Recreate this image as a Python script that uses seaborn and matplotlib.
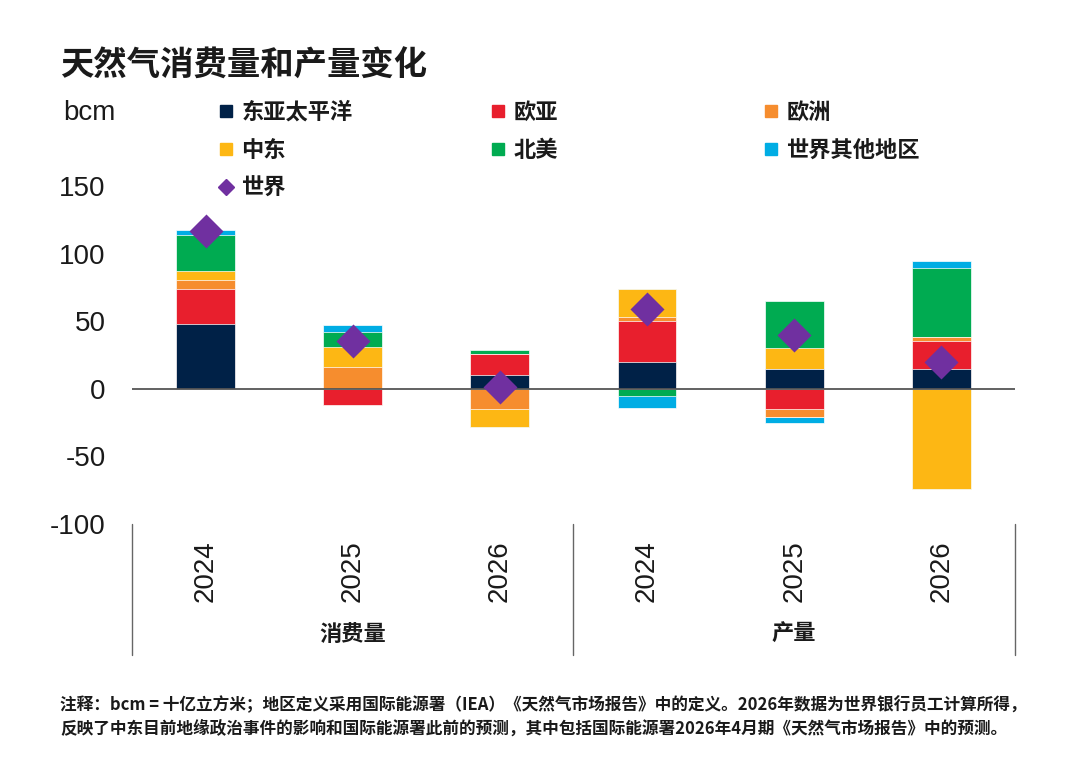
import numpy as np
import pandas as pd
import seaborn as sns
import matplotlib.pyplot as plt
from matplotlib.lines import Line2D
from matplotlib.font_manager import FontProperties

# 数据 (bcm)
groups = ['消费量', '产量']
years = ['2024', '2025', '2026', '2024', '2025', '2026']
east_asia_pacific = [48, 0, 10, 20, 15, 15]
eurasia = [26, -12, 16, 30, -15, 20]
europe = [6.5, 16, -15, 3, -6, 3]
middle_east = [6.5, 15, -13, 20.5, 15, -74]
north_america = [26.5, 11, 3, -5, 35, 51]
rest_of_world = [4, 5, 0, -9.5, -4, 5.5]
world = [117, 35, 1, 59, 40, 20]

series_names = ['东亚太平洋', '欧亚', '欧洲', '中东', '北美', '世界其他地区']
series_colors = ['#002147', '#e81f2d', '#f68d2e', '#fdb714', '#00ab51', '#00ade4']
world_color = '#7030a0'

title = '天然气消费量和产量变化'
note1 = '注释：bcm = 十亿立方米；地区定义采用国际能源署（IEA）《天然气市场报告》中的定义。2026年数据为世界银行员工计算所得，'
note2 = '反映了中东目前地缘政治事件的影响和国际能源署此前的预测，其中包括国际能源署2026年4月期《天然气市场报告》中的预测。'

sns.set_theme(style='white')
plt.rcParams['font.family'] = ['Liberation Sans', 'Noto Sans CJK SC', 'DejaVu Sans']
plt.rcParams['axes.unicode_minus'] = False
cjk = ['Noto Sans CJK SC', 'DejaVu Sans']
txt = '#1a1a1a'

# bar keys (years repeat across the two groups)
keys = [groups[i // 3] + years[i] for i in range(len(years))]

vals = np.array([east_asia_pacific, eurasia, europe, middle_east, north_america, rest_of_world], dtype=float)
pos_cum = np.cumsum(np.clip(vals, 0, None), axis=0)
neg_cum = np.cumsum(np.clip(vals, None, 0), axis=0)

fig = plt.figure(figsize=(10.66, 7.7), dpi=100)
ax = fig.add_axes([0.1238, 0.3195, 0.8283, 0.4389])

# stacked bars: draw outer cumulative totals first, inner ones on top
for i in reversed(range(len(series_names))):
    for cum in (pos_cum[i], neg_cum[i]):
        df = pd.DataFrame({'key': keys, 'value': cum})
        sns.barplot(data=df, x='key', y='value', color=series_colors[i], saturation=1,
                    width=0.4, errorbar=None, edgecolor='white', linewidth=0.5, ax=ax)

ax.axhline(0, color='#555555', lw=1.3, zorder=4)

sns.scatterplot(x=np.arange(len(world)), y=world, marker='D', s=300, color=world_color,
                linewidth=0, zorder=5, legend=False, ax=ax)

ax.set_xlim(-0.5, len(years) - 0.5)
ax.set_ylim(-100, 150)
ax.set_yticks([-100, -50, 0, 50, 100, 150])
ax.set_xticks(range(len(years)))
ax.set_xticklabels(years, rotation=90, va='top')
ax.set_xlabel('')
ax.set_ylabel('')
ax.tick_params(axis='y', length=0, pad=19, labelsize=20, labelcolor=txt)
ax.tick_params(axis='x', length=0, pad=12, labelsize=20, labelcolor=txt)
for s in ax.spines.values():
    s.set_visible(False)

# group separators and labels under the axis
for xv in [-0.5, 2.5, 5.5]:
    ax.plot([xv, xv], [-100, -197], color='#666666', lw=1, clip_on=False)
for gi, g in enumerate(groups):
    ax.text(1 + 3 * gi, -182, g, ha='center', va='center', fontsize=16,
            weight='bold', family=cjk, color=txt)

fig.text(60 / 1066, 1 - 66 / 770, title, fontsize=24, weight='bold', family=cjk,
         va='center', color=txt)
fig.text(63 / 1066, 1 - 113 / 770, 'bcm', fontsize=20, va='center', color=txt)

# legend, one per column
leg_font = FontProperties(family=cjk, weight='bold', size=16)
handles = [Line2D([0], [0], marker='s', ls='', color=c, markersize=9) for c in series_colors]
world_handle = Line2D([0], [0], marker='D', ls='', color=world_color, markersize=8)
columns = [
    ([handles[0], handles[3], world_handle], [series_names[0], series_names[3], '世界']),
    ([handles[1], handles[4]], [series_names[1], series_names[4]]),
    ([handles[2], handles[5]], [series_names[2], series_names[5]]),
]
for (h, l), x0 in zip(columns, [219, 491, 764]):
    leg = fig.legend(h, l, loc='upper left', bbox_to_anchor=(x0 / 1066, 1 - 101 / 770),
                     frameon=False, prop=leg_font, handlelength=0.6, handletextpad=0.4,
                     labelspacing=0.68, borderpad=0, borderaxespad=0)
    for t in leg.get_texts():
        t.set_color(txt)

fig.text(60 / 1066, 1 - 705 / 770, note1, fontsize=12, weight='bold', family=cjk,
         va='center', color=txt)
fig.text(60 / 1066, 1 - 730 / 770, note2, fontsize=12, weight='bold', family=cjk,
         va='center', color=txt)

fig.savefig('out.png', dpi=100)
